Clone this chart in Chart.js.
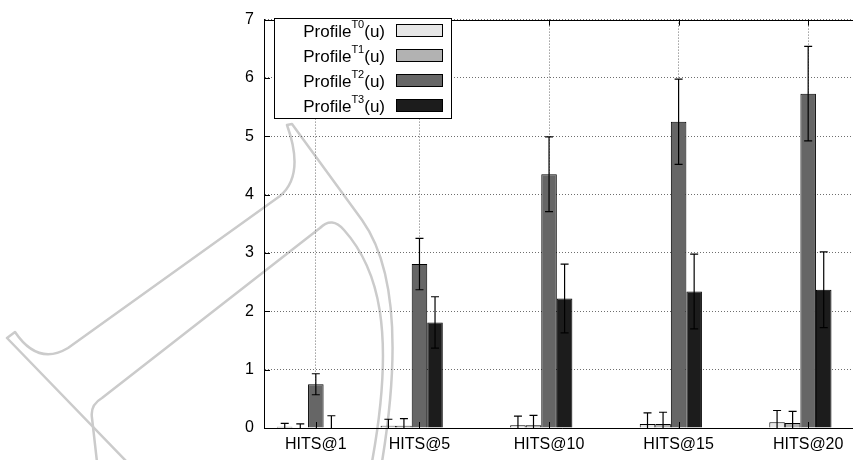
<!DOCTYPE html>
<html>
<head>
<meta charset="utf-8">
<title>Profile HITS</title>
<script src="https://cdn.jsdelivr.net/npm/chart.js@4.4.1/dist/chart.umd.min.js"></script>
<style>
  html, body { margin: 0; padding: 0; background: #fff; overflow: hidden; }
  #wrap { width: 870px; height: 460px; }
</style>
</head>
<body>
<div id="wrap"><canvas id="hitsChart" width="870" height="460"></canvas></div>
<script>
// data
var hitsAt = [1, 5, 10, 15, 20];
var seriesTags = ['T0', 'T1', 'T2', 'T3'];
var profileT0 = [0.02, 0.04, 0.045, 0.07, 0.10];
var profileT1 = [0.0, 0.04, 0.045, 0.07, 0.085];
var profileT2 = [0.75, 2.81, 4.35, 5.25, 5.73];
var profileT3 = [0.0, 1.81, 2.22, 2.34, 2.37];
var errT0 = [0.06, 0.11, 0.16, 0.19, 0.20];
var errT1 = [0.07, 0.12, 0.17, 0.20, 0.20];
var errT2 = [0.18, 0.44, 0.64, 0.73, 0.81];
var errT3 = [0.21, 0.44, 0.59, 0.64, 0.65];
var yTicks = [0, 1, 2, 3, 4, 5, 6, 7];

var fills = ['#e6e6e6', '#b2b2b2', '#666666', '#1c1c1c'];
var FONT = '"Liberation Sans", Arial, sans-serif';

function points(vals) {
  return hitsAt.map(function (h, i) { return { x: h, y: vals[i] }; });
}

var allValues = [profileT0, profileT1, profileT2, profileT3];
var allErrors = [errT0, errT1, errT2, errT3];

var datasets = allValues.map(function (vals, i) {
  return {
    label: 'Profile' + seriesTags[i] + '(u)',
    tag: seriesTags[i],
    data: points(vals),
    errors: allErrors[i],
    backgroundColor: fills[i],
    borderColor: '#000',
    borderWidth: 1,
    borderSkipped: 'bottom'
  };
});
// empty slot so that the T2 bar sits on the tick, like gnuplot does
datasets.push({ label: '', data: [], spacer: true });

// faint outline that sits behind the plot
var watermark = {
  id: 'watermark',
  beforeDraw: function (chart) {
    var c = chart.ctx;
    c.save();
    c.strokeStyle = '#cbcbcb';
    c.lineWidth = 2.5;
    c.lineJoin = 'round';
    c.beginPath();
    c.moveTo(127, 462);
    c.lineTo(7, 338);
    c.lineTo(15, 332);
    c.quadraticCurveTo(38, 366, 68, 348);
    c.lineTo(280, 196);
    c.quadraticCurveTo(305, 175, 287, 125);
    c.lineTo(292, 124);
    c.lineTo(362, 220);
    c.bezierCurveTo(392, 262, 402, 340, 382, 462);
    c.stroke();
    c.beginPath();
    c.moveTo(97, 462);
    c.lineTo(92, 418);
    c.quadraticCurveTo(90, 405, 102, 398);
    c.lineTo(320, 228);
    c.quadraticCurveTo(332, 216, 344, 230);
    c.bezierCurveTo(378, 268, 396, 330, 372, 462);
    c.stroke();
    c.restore();
  }
};

// error bars, frame ticks and the boxed legend
var extras = {
  id: 'extras',
  afterDatasetsDraw: function (chart) {
    var c = chart.ctx;
    var area = chart.chartArea;
    var yScale = chart.scales.y;
    c.save();
    c.beginPath();
    c.rect(area.left, area.top - 1, area.right - area.left, area.bottom - area.top + 1);
    c.clip();
    c.strokeStyle = '#000';
    c.lineWidth = 1.2;
    chart.data.datasets.forEach(function (ds, di) {
      if (ds.spacer) return;
      var meta = chart.getDatasetMeta(di);
      meta.data.forEach(function (bar, i) {
        var v = ds.data[i].y, e = ds.errors[i];
        var top = yScale.getPixelForValue(v + e);
        var bot = yScale.getPixelForValue(v - e);
        c.beginPath();
        c.moveTo(bar.x, top); c.lineTo(bar.x, bot);
        c.moveTo(bar.x - 4, top); c.lineTo(bar.x + 4, top);
        c.moveTo(bar.x - 4, bot); c.lineTo(bar.x + 4, bot);
        c.stroke();
      });
    });
    c.restore();
  },
  afterDraw: function (chart) {
    var c = chart.ctx;
    var area = chart.chartArea;
    var xScale = chart.scales.x, yScale = chart.scales.y;
    c.save();
    // top border
    c.strokeStyle = '#000';
    c.lineWidth = 1;
    c.beginPath();
    c.moveTo(area.left, Math.round(area.top) + 0.5);
    c.lineTo(area.right, Math.round(area.top) + 0.5);
    c.stroke();
    // inward tick marks
    c.beginPath();
    yTicks.forEach(function (t) {
      var y = Math.round(yScale.getPixelForValue(t)) + 0.5;
      c.moveTo(area.left, y); c.lineTo(area.left + 6, y);
    });
    hitsAt.forEach(function (h) {
      var x = Math.round(xScale.getPixelForValue(h)) + 0.5;
      c.moveTo(x, area.bottom); c.lineTo(x, area.bottom - 6);
      c.moveTo(x, area.top); c.lineTo(x, area.top + 6);
    });
    c.stroke();

    // legend box
    var lg = chart.options.plugins.boxLegend;
    var rows = chart.data.datasets.filter(function (d) { return !d.spacer; });
    c.fillStyle = '#fff';
    c.fillRect(lg.left, lg.top, lg.width, lg.height);
    c.strokeRect(lg.left + 0.5, lg.top + 0.5, lg.width, lg.height);
    rows.forEach(function (ds, i) {
      var cy = lg.top + lg.firstRow + i * lg.rowGap;
      var x = lg.textRight;
      c.fillStyle = '#000';
      c.textBaseline = 'middle';
      c.textAlign = 'right';
      c.font = '17px ' + FONT;
      c.fillText('(u)', x, cy + 2);
      x -= c.measureText('(u)').width;
      c.font = '11px ' + FONT;
      c.fillText(ds.tag, x, cy - 5);
      x -= c.measureText(ds.tag).width;
      c.font = '17px ' + FONT;
      c.fillText('Profile', x, cy + 2);
      c.fillStyle = ds.backgroundColor;
      c.fillRect(lg.boxLeft, cy - 6, lg.boxWidth, 12);
      c.strokeStyle = '#000';
      c.strokeRect(lg.boxLeft + 0.5, cy - 5.5, lg.boxWidth, 12);
    });
    c.restore();
  }
};

var hitsChart = new Chart(document.getElementById('hitsChart'), {
  type: 'bar',
  data: { datasets: datasets },
  plugins: [watermark, extras],
  options: {
    responsive: false,
    animation: false,
    categoryPercentage: 0.75,
    barPercentage: 1.0,
    layout: { padding: { left: 0, right: 10, top: 12, bottom: 0 } },
    plugins: {
      legend: { display: false },
      tooltip: { enabled: false },
      boxLegend: {
        left: 274, top: 18, width: 177, height: 100,
        firstRow: 12, rowGap: 25, textRight: 385,
        boxLeft: 396, boxWidth: 46
      }
    },
    scales: {
      x: {
        type: 'linear',
        offset: false,
        min: -1,
        max: 22,
        afterBuildTicks: function (scale) {
          scale.ticks = hitsAt.map(function (h) { return { value: h }; });
        },
        afterFit: function (scale) { scale.height = 32; },
        ticks: {
          color: '#000',
          font: { family: FONT, size: 16 },
          padding: 7,
          maxRotation: 0,
          autoSkip: false,
          callback: function (v) { return 'HITS@' + v; }
        },
        grid: {
          offset: false,
          drawTicks: false,
          color: '#6e6e6e',
          lineWidth: 1
        },
        // in v4 the dash here styles the grid lines, the axis line stays solid
        border: { display: true, color: '#000', width: 1, dash: [1, 2] }
      },
      y: {
        min: 0,
        max: 7,
        afterBuildTicks: function (scale) {
          scale.ticks = yTicks.map(function (t) { return { value: t }; });
        },
        afterFit: function (scale) { scale.width = 264; },
        ticks: {
          color: '#000',
          font: { family: FONT, size: 16 },
          padding: 10
        },
        grid: {
          drawTicks: false,
          color: '#6e6e6e',
          lineWidth: 1
        },
        border: { display: true, color: '#000', width: 1, dash: [1, 2] }
      }
    }
  }
});
</script>
</body>
</html>
